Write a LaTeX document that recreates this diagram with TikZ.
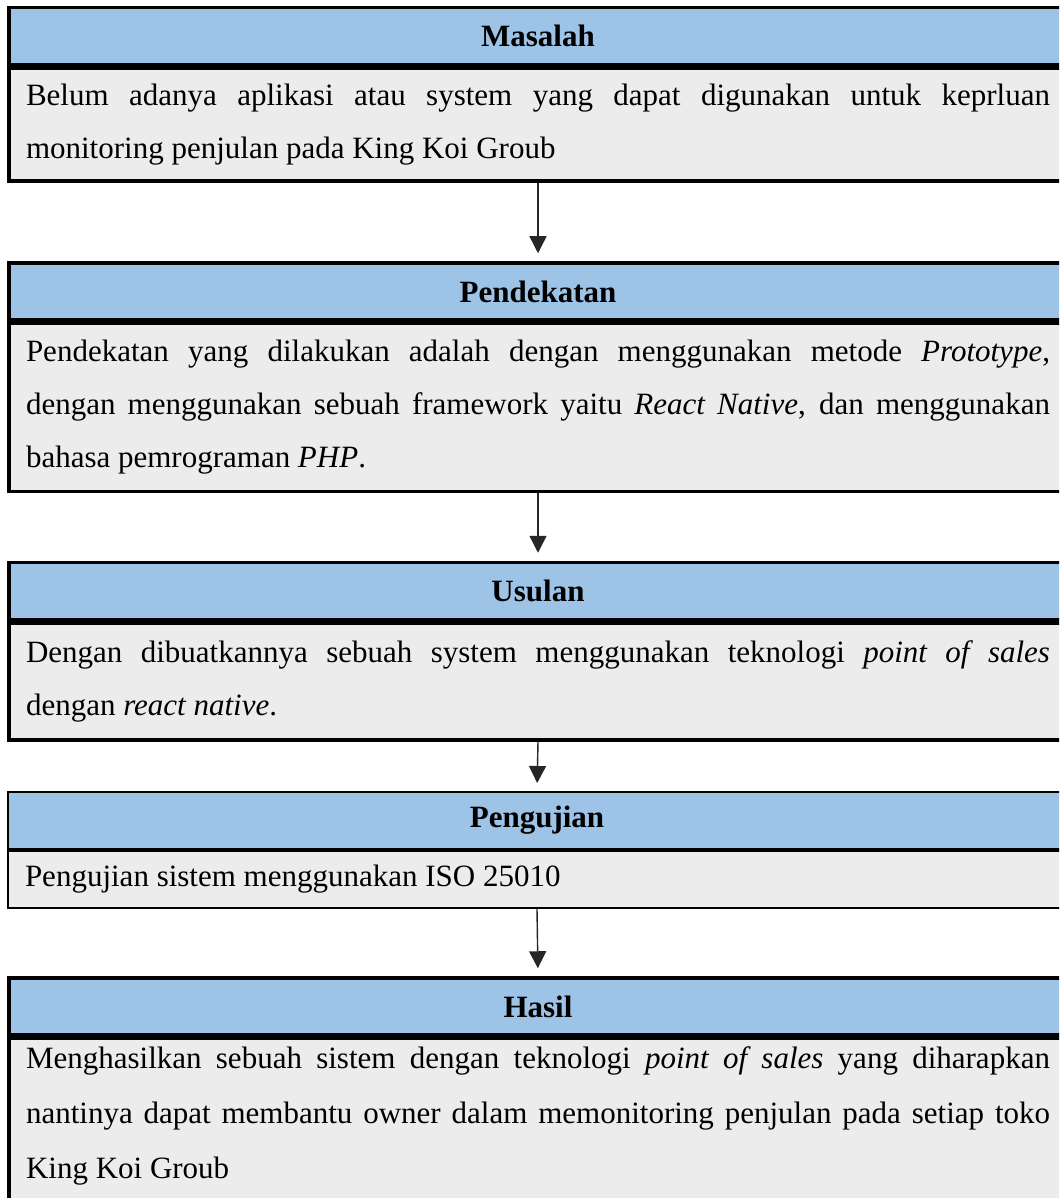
\documentclass[tikz,border=0pt]{standalone}
\usepackage{fontspec}
\setmainfont{Liberation Serif}
\usetikzlibrary{positioning,arrows.meta}
\definecolor{headblue}{RGB}{157,195,230}
\definecolor{bodygray}{RGB}{236,236,236}

\begin{document}
\begin{tikzpicture}[
        x=1pt, y=-1pt,
        font=\fontsize{31}{53}\selectfont,
        fw head/.style ={draw, line width=3.5pt, fill=headblue, minimum width=1058pt,
                         minimum height=57pt, inner sep=0pt, font=\fontsize{31}{53}\selectfont\bfseries},
        fw body/.style ={draw, line width=3.5pt, fill=bodygray, text width=1024pt,
                         inner xsep=17pt, inner ysep=0pt, align=justify, anchor=north},
        fw thin/.style ={line width=2pt},
        fw arrow/.style={line width=1.4pt, draw=black!85, -{Triangle[width=17pt,length=17pt]},
                         shorten >=8pt}
    ]
    \useasboundingbox (0,0) rectangle (1059,1198);
    \clip (0,0) rectangle (1059,1198);
    %% --- Masalah ----------------------------------------------------------
    \node[fw head] (h1) at (538,36) {Masalah};
    \node[fw body, minimum height=113pt] (b1) at (h1.south) {Belum adanya aplikasi atau system yang dapat digunakan untuk keprluan\linebreak monitoring penjulan pada King Koi Groub\vphantom{y}};
    %% --- Pendekatan -------------------------------------------------------
    \node[fw head] (h2) at (538,291.5) {Pendekatan};
    \node[fw body, minimum height=168pt] (b2) at (h2.south) {Pendekatan yang dilakukan adalah dengan menggunakan metode \textit{Prototype},\linebreak dengan menggunakan sebuah framework yaitu \textit{React Native}, dan menggunakan\linebreak bahasa pemrograman \textit{PHP}.\vphantom{y}};
    %% --- Usulan -----------------------------------------------------------
    \node[fw head] (h3) at (538,591) {Usulan};
    \node[fw body, minimum height=117pt] (b3) at (h3.south) {Dengan dibuatkannya sebuah system menggunakan teknologi \textit{point of sales}\linebreak dengan \textit{react native}.\vphantom{y}};
    %% --- Pengujian --------------------------------------------------------
    \node[fw head, fw thin] (h4) at (537,820.5) {Pengujian};
    \node[fw body, fw thin, minimum height=57pt] (b4) at (h4.south) {Pengujian sistem menggunakan ISO 25010};
    %% --- Hasil ------------------------------------------------------------
    \node[fw head] (h5) at (538,1006.5) {Hasil};
    \node[fw body, minimum height=218pt, font=\fontsize{31}{55}\selectfont] (b5) at (h5.south) {Menghasilkan sebuah sistem dengan teknologi \textit{point of sales} yang diharapkan\linebreak nantinya dapat membantu owner dalam memonitoring penjulan pada setiap toko\linebreak King Koi Groub\rule[-70pt]{0pt}{1pt}};
    %% --- arrows -----------------------------------------------------------
    \draw[fw arrow] (b1.south) -- (h2.north);
    \draw[fw arrow] (b2.south) -- (h3.north);
    \draw[fw arrow] (b3.south) -- (h4.north);
    \draw[fw arrow] (b4.south) -- (h5.north);
\end{tikzpicture}
\end{document}
